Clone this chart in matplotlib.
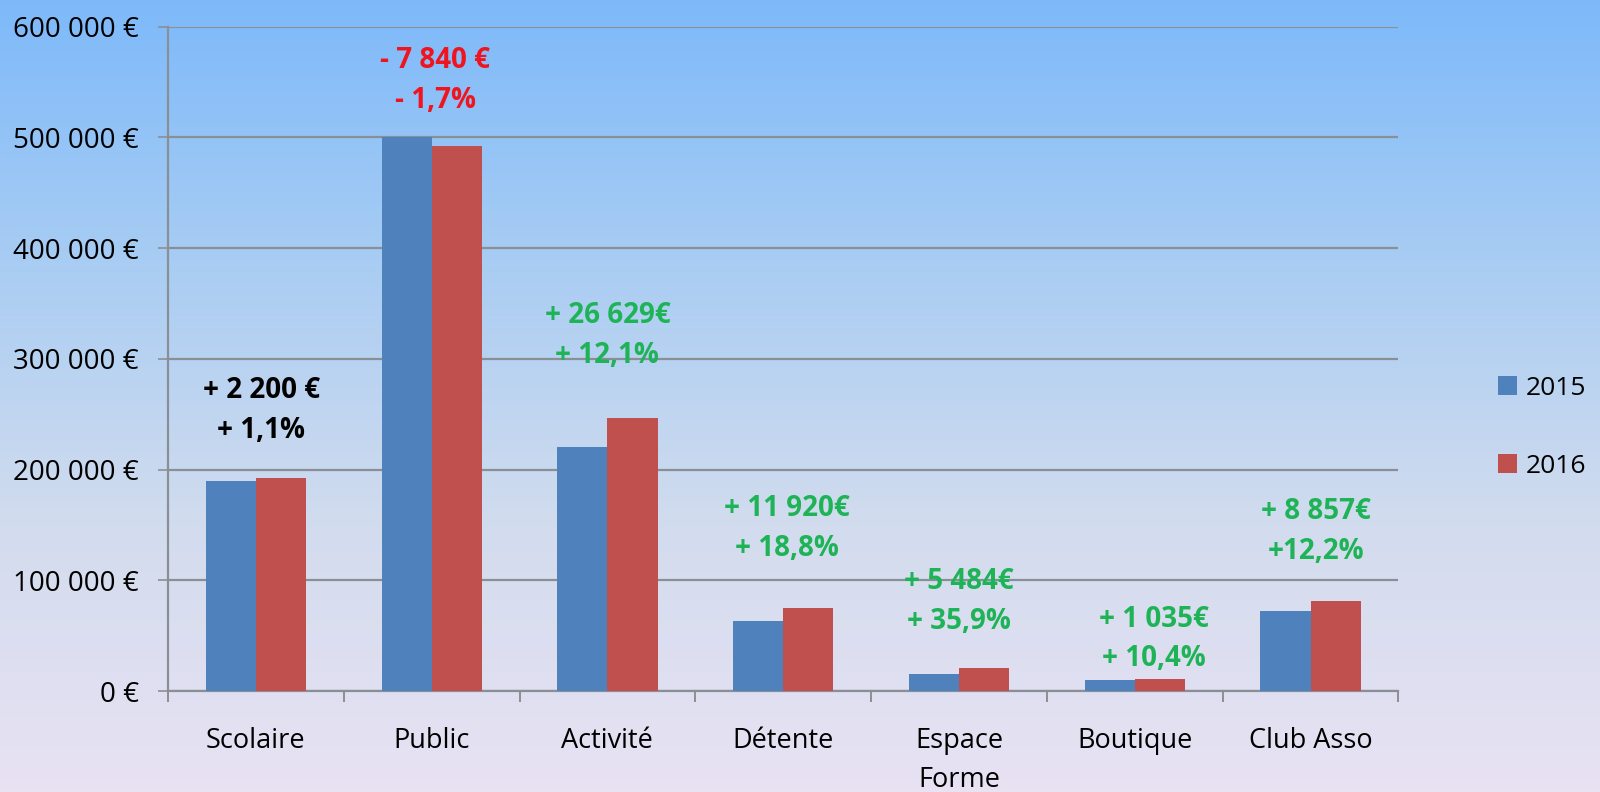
import numpy as np
import matplotlib
matplotlib.use("Agg")
import matplotlib.pyplot as plt
from matplotlib.colors import LinearSegmentedColormap
from matplotlib.ticker import FuncFormatter, FixedLocator

categories = ["Scolaire", "Public", "Activité", "Détente", "Espace\nForme", "Boutique", "Club Asso"]
values_2015 = [190000, 500000, 220000, 63500, 15500, 10000, 72700]
values_2016 = [192200, 492200, 246600, 75400, 21000, 11000, 81600]
series_labels = ["2015", "2016"]

delta_eur = ["+ 2 200 €", "- 7 840 €", "+ 26 629€", "+ 11 920€", "+ 5 484€", "+ 1 035€", "+ 8 857€"]
delta_pct = ["+ 1,1%", "- 1,7%", "+ 12,1%", "+ 18,8%", "+ 35,9%", "+ 10,4%", "+12,2%"]
delta_kind = ["flat", "down", "up", "up", "up", "up", "up"]

# label placement (data units), layout only
label_y_top = [271000, 569000, 339000, 165000, 99000, 65000, 162000]
label_gap = 36000
label_dx = [0.03, 0.02, 0.0, 0.02, 0.0, 0.11, 0.03]

plt.rcParams["font.family"] = ["Open Sans", "DejaVu Sans"]

fig = plt.figure(figsize=(16, 7.92), dpi=100)

# background gradient
bg = fig.add_axes([0, 0, 1, 1], zorder=-10)
cmap = LinearSegmentedColormap.from_list("bg", ["#7db9fa", "#a9cdf3", "#d2dcee", "#e8e2f3"])
grad = np.linspace(0, 1, 256).reshape(-1, 1)
bg.imshow(grad, aspect="auto", cmap=cmap, extent=[0, 1, 0, 1])
bg.axis("off")

ax = fig.add_axes([0.105, 0.1275, 0.769, 0.839])
ax.set_facecolor("none")

x = np.arange(len(categories))
w = 0.285
ax.bar(x - w / 2, values_2015, w, color="#4f81bd", label=series_labels[0], zorder=3)
ax.bar(x + w / 2, values_2016, w, color="#c0504d", label=series_labels[1], zorder=3)

ax.set_xlim(-0.5, len(categories) - 0.5)
ax.set_ylim(0, 600000)
ax.set_yticks(np.arange(0, 600001, 100000))
ax.yaxis.set_major_formatter(FuncFormatter(lambda v, p: "0 €" if v == 0 else f"{int(v):,} €".replace(",", " ")))
ax.grid(axis="y", color="#8a8f96", linewidth=1.6, zorder=0)

ax.set_xticks(x)
ax.set_xticklabels(categories, fontsize=19.5, linespacing=1.5, va="top")
ax.xaxis.set_minor_locator(FixedLocator(np.arange(-0.5, len(categories), 1)))
ax.tick_params(axis="x", which="major", length=0, pad=26)
ax.tick_params(axis="x", which="minor", length=8, width=1.4, color="#8a8f96", direction="out")
ax.tick_params(axis="y", length=7, width=1.2, color="#8a8f96", labelsize=20, pad=14)

for s in ["top", "right"]:
    ax.spines[s].set_visible(False)
for s in ["left", "bottom"]:
    ax.spines[s].set_color("#8a8f96")
    ax.spines[s].set_linewidth(1.6)

colors = {"flat": "#000000", "down": "#f0141e", "up": "#1fb357"}
for i in range(len(categories)):
    c = colors[delta_kind[i]]
    ax.text(x[i] + label_dx[i], label_y_top[i], delta_eur[i], ha="center", va="center",
            fontsize=20, fontweight="bold", color=c, zorder=5)
    ax.text(x[i] + label_dx[i], label_y_top[i] - label_gap, delta_pct[i], ha="center", va="center",
            fontsize=20, fontweight="bold", color=c, zorder=5)

ax.legend(loc="center left", bbox_to_anchor=(1.066, 0.397), frameon=False, fontsize=19,
          handlelength=0.7, handleheight=0.7, labelspacing=2.0, handletextpad=0.35,
          borderaxespad=0.3)

fig.savefig("out.png", dpi=100)
